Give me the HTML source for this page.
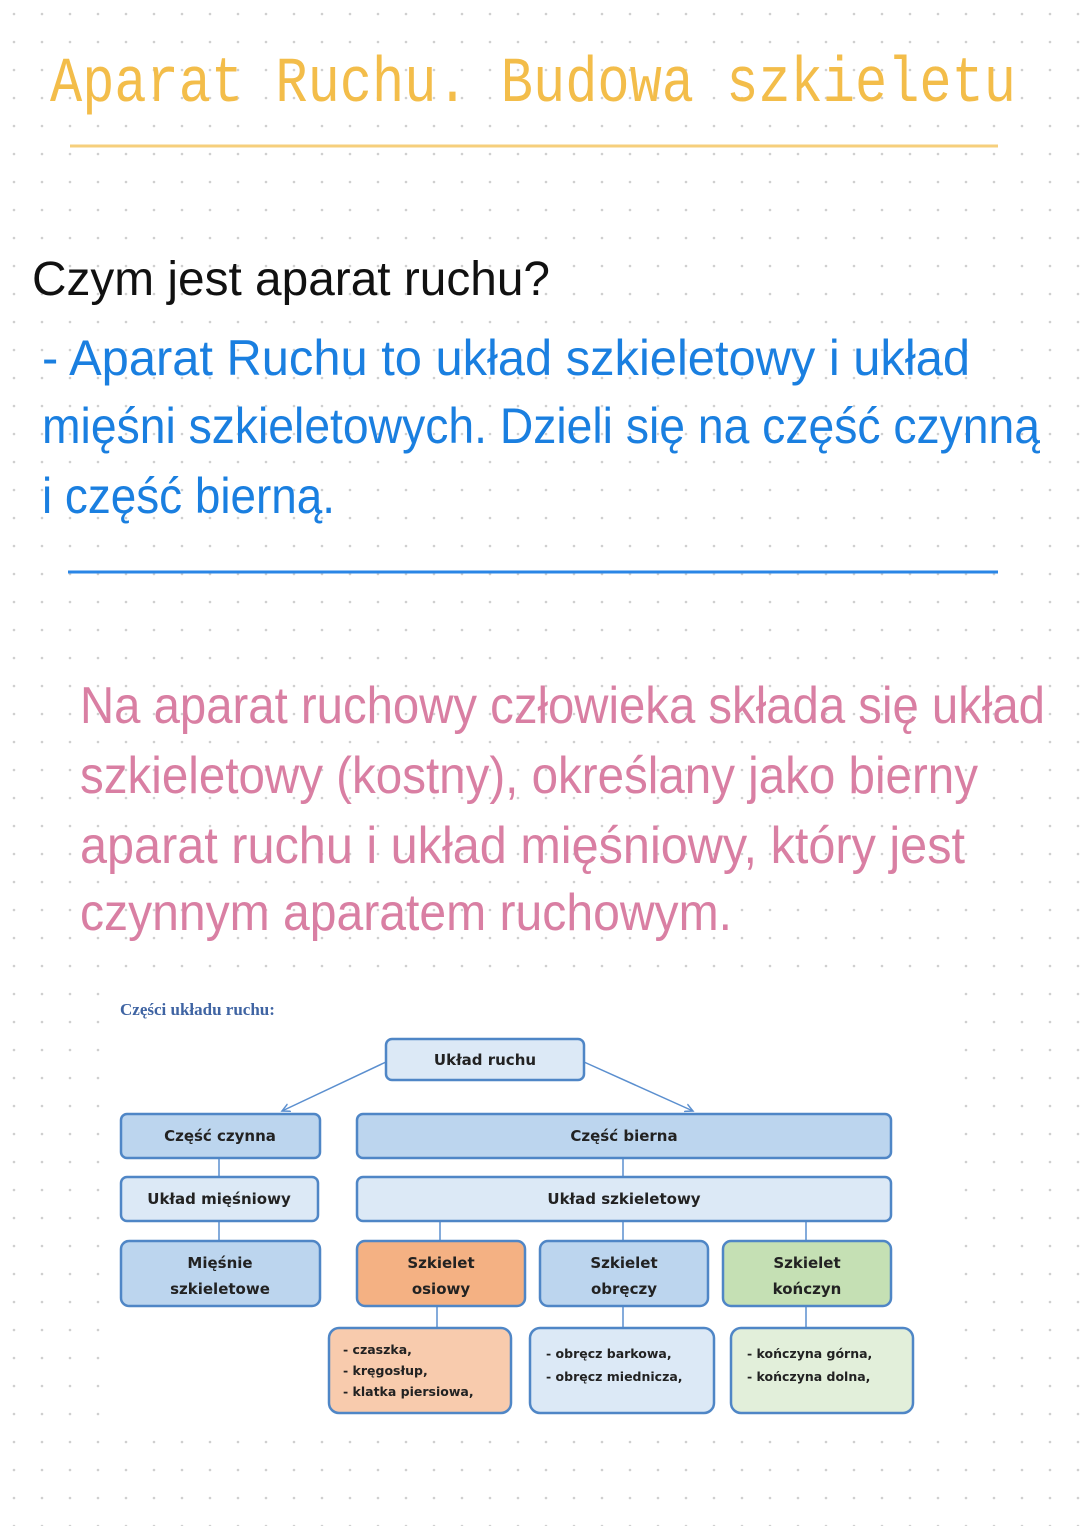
<!DOCTYPE html>
<html><head><meta charset="utf-8"><style>
html,body{margin:0;padding:0;background:#fff}
body{width:1080px;height:1526px;overflow:hidden}
</style></head><body>
<svg width="1080" height="1526" xmlns="http://www.w3.org/2000/svg">
<defs>
<pattern id="dots" x="0" y="0" width="28" height="28" patternUnits="userSpaceOnUse">
<circle cx="14" cy="14" r="1.3" fill="#cfcfcf"/>
</pattern>
<marker id="ar" markerWidth="10" markerHeight="10" refX="8" refY="5" orient="auto" markerUnits="userSpaceOnUse">
<path d="M0,1 L8,5 L0,9" fill="none" stroke="#5b8fcf" stroke-width="1.5"/>
</marker>
</defs>
<rect width="1080" height="1526" fill="url(#dots)"/>

<text x="50" y="101" font-family="Liberation Mono, monospace" font-size="64" fill="#f3bd4a" textLength="966" lengthAdjust="spacingAndGlyphs">Aparat Ruchu. Budowa szkieletu</text>
<line x1="70" y1="146" x2="998" y2="146" stroke="#f6cf7c" stroke-width="3"/>

<g font-family="Liberation Sans, sans-serif">
<text x="32" y="295" font-size="48" fill="#111" textLength="518" lengthAdjust="spacingAndGlyphs">Czym jest aparat ruchu?</text>
<text x="42" y="375" font-size="50" fill="#1a7fe0" textLength="928" lengthAdjust="spacingAndGlyphs">- Aparat Ruchu to układ  szkieletowy i układ</text>
<text x="42" y="443" font-size="50" fill="#1a7fe0" textLength="998" lengthAdjust="spacingAndGlyphs">mięśni szkieletowych. Dzieli się na część czynną</text>
<text x="42" y="513" font-size="50" fill="#1a7fe0" textLength="293" lengthAdjust="spacingAndGlyphs">i część bierną.</text>
<line x1="68" y1="572" x2="998" y2="572" stroke="#2a86e6" stroke-width="3"/>

<text x="80" y="723" font-size="52" fill="#d97fa3" textLength="965" lengthAdjust="spacingAndGlyphs">Na aparat ruchowy człowieka składa się układ</text>
<text x="80" y="793" font-size="52" fill="#d97fa3" textLength="898" lengthAdjust="spacingAndGlyphs">szkieletowy (kostny), określany jako bierny</text>
<text x="80" y="863" font-size="52" fill="#d97fa3" textLength="885" lengthAdjust="spacingAndGlyphs">aparat ruchu i układ mięśniowy, który jest</text>
<text x="80" y="930" font-size="52" fill="#d97fa3" textLength="652" lengthAdjust="spacingAndGlyphs">czynnym aparatem ruchowym.</text>
</g>

<rect x="100" y="985" width="840" height="440" fill="#fff"/>
<text x="120" y="1015" font-family="Liberation Serif, serif" font-weight="bold" font-size="17" fill="#3f64a3">Części układu ruchu:</text>

<g stroke="#5b8fcf" stroke-width="1.5">
<line x1="386" y1="1062" x2="282" y2="1111" marker-end="url(#ar)"/>
<line x1="584" y1="1062" x2="693" y2="1111" marker-end="url(#ar)"/>
<line x1="219" y1="1158" x2="219" y2="1177"/>
<line x1="219" y1="1221" x2="219" y2="1241"/>
<line x1="623" y1="1158" x2="623" y2="1177"/>
<line x1="440" y1="1221" x2="440" y2="1241"/>
<line x1="623" y1="1221" x2="623" y2="1241"/>
<line x1="806" y1="1221" x2="806" y2="1241"/>
<line x1="437" y1="1306" x2="437" y2="1328"/>
<line x1="623" y1="1306" x2="623" y2="1328"/>
<line x1="806" y1="1306" x2="806" y2="1328"/>
</g>

<g stroke="#4f86c6" stroke-width="2.5">
<rect x="386" y="1039" width="198" height="41" rx="6" fill="#dce9f6"/>
<rect x="121" y="1114" width="199" height="44" rx="6" fill="#bcd5ee"/>
<rect x="357" y="1114" width="534" height="44" rx="6" fill="#bcd5ee"/>
<rect x="121" y="1177" width="197" height="44" rx="6" fill="#dce9f6"/>
<rect x="357" y="1177" width="534" height="44" rx="6" fill="#dce9f6"/>
<rect x="121" y="1241" width="199" height="65" rx="8" fill="#bcd5ee"/>
<rect x="357" y="1241" width="168" height="65" rx="8" fill="#f4b183"/>
<rect x="540" y="1241" width="168" height="65" rx="8" fill="#bcd5ee"/>
<rect x="723" y="1241" width="168" height="65" rx="8" fill="#c5e0b4"/>
<rect x="329" y="1328" width="182" height="85" rx="10" fill="#f8cbad"/>
<rect x="530" y="1328" width="184" height="85" rx="10" fill="#dce9f6"/>
<rect x="731" y="1328" width="182" height="85" rx="10" fill="#e2efda"/>
</g>

<g font-family="DejaVu Sans, Liberation Sans, sans-serif" font-weight="bold" font-size="15" fill="#222" text-anchor="middle">
<text x="485" y="1065">Układ ruchu</text>
<text x="220" y="1141">Część czynna</text>
<text x="624" y="1141">Część bierna</text>
<text x="219" y="1204">Układ mięśniowy</text>
<text x="624" y="1204">Układ szkieletowy</text>
<text x="220" y="1268">Mięśnie</text>
<text x="220" y="1294">szkieletowe</text>
<text x="441" y="1268">Szkielet</text>
<text x="441" y="1294">osiowy</text>
<text x="624" y="1268">Szkielet</text>
<text x="624" y="1294">obręczy</text>
<text x="807" y="1268">Szkielet</text>
<text x="807" y="1294">kończyn</text>
</g>
<g font-family="DejaVu Sans, Liberation Sans, sans-serif" font-weight="bold" font-size="12.5" fill="#222">
<text x="343" y="1354">- czaszka,</text>
<text x="343" y="1375">- kręgosłup,</text>
<text x="343" y="1396">- klatka  piersiowa,</text>
<text x="546" y="1358">- obręcz  barkowa,</text>
<text x="546" y="1381">- obręcz miednicza,</text>
<text x="747" y="1358">- kończyna górna,</text>
<text x="747" y="1381">- kończyna dolna,</text>
</g>
</svg>
</body></html>
